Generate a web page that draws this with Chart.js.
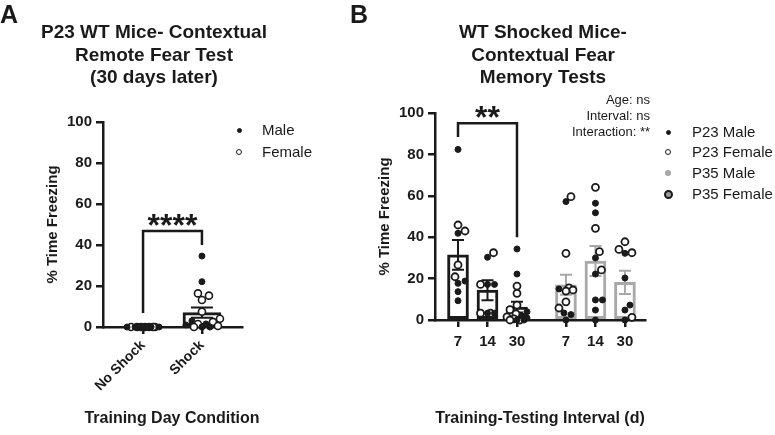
<!DOCTYPE html>
<html>
<head>
<meta charset="utf-8">
<script src="https://cdn.jsdelivr.net/npm/chart.js@4.4.0/dist/chart.umd.min.js"></script>
<style>
  body { margin: 0; background: #fff; font-family: "Liberation Sans", Arial, sans-serif; color: #1a1a1a; }
  #wrap { position: relative; width: 775px; height: 435px; overflow: hidden; }
  canvas { position: absolute; top: 0; }
  .t { position: absolute; white-space: nowrap; }
  .letter { font-size: 25px; font-weight: bold; line-height: 25px; top: 2px; }
  .title { font-size: 19px; font-weight: bold; line-height: 22.5px; text-align: center; width: 300px; top: 21px; }
  .xtitle { font-size: 16px; font-weight: bold; line-height: 18px; text-align: center; width: 300px; top: 409px; }
  .stats { font-size: 13px; line-height: 16px; text-align: right; right: 125px; top: 92px; }
  .leg { position: absolute; font-size: 15px; line-height: 18px; }
  .dot { position: absolute; border-radius: 50%; box-sizing: border-box; }
</style>
</head>
<body>
<div id="wrap">
  <canvas id="chartA" width="360" height="435" style="left:0"></canvas>
  <canvas id="chartB" width="415" height="435" style="left:360px"></canvas>
  <div class="t letter" style="left:0">A</div>
  <div class="t letter" style="left:350px">B</div>
  <div class="t title" style="left:4px">P23 WT Mice- Contextual<br>Remote Fear Test<br>(30 days later)</div>
  <div class="t title" style="left:393px">WT Shocked Mice-<br>Contextual Fear<br>Memory Tests</div>
  <div class="t xtitle" style="left:22px">Training Day Condition</div>
  <div class="t xtitle" style="left:390px">Training-Testing Interval (d)</div>
  <div class="t stats">Age: ns<br>Interval: ns<br>Interaction: **</div>
  <div id="legends"></div>
</div>
<script>
// ---- Panel A: P23 remote fear test ----
const groupsA = ['No Shock', 'Shock'];
const meanA = [0, 7.0];
const semA = [0, 2.5];
const maleA = [[0, 0, 0, 0, 0, 0, 0], [34.6, 22.1, 3, 1.5, 1, 0, 0]];
const femaleA = [[0, 0, 0, 0, 0, 0, 0], [16.4, 15.3, 13.2, 7.5, 4, 2.5, 1.5, 0.5, 0]];

// ---- Panel B: shocked mice, interval by age ----
const intervalsB = ['7', '14', '30'];
const agesB = ['P23', 'P35'];
const meanP23 = [31.5, 14.4, 6.2];
const semP23 = [7.2, 4.8, 2.6];
const meanP35 = [17.0, 28.5, 18.2];
const semP35 = [4.8, 7.2, 5.6];
const p23Male = [[82.4, 41.9, 18.8, 17.7, 13.7, 9.3], [30.3, 17.2, 17.2, 3.3, 3.3], [34.3, 22.2, 4, 2, 1, 0, 0]];
const p23Female = [[45.9, 43, 26.6, 20.9], [32.5, 17.2, 3.3, 3.3], [16.4, 12.9, 7.2, 5, 3, 1.5, 0.5, 0, 0]];
const p35Male = [[57.2, 15, 3.4, 2.6, 0], [56.4, 51.8, 30, 22.2, 9.7, 9.7, 4.8, 0], [32.2, 20.3, 7.2, 4.8, 0]];
const p35Female = [[59.6, 32.2, 15.5, 14.5, 14, 8.8, 5.8], [64.1, 44.3, 33, 24.2], [37.8, 34.1, 32.5, 1.3]];

const INK = '#1a1a1a';
const GREY = '#a8a8a8';
Chart.defaults.font.family = '"Liberation Sans", Arial, sans-serif';
Chart.defaults.color = INK;
Chart.defaults.animation = false;

// mean +/- SEM whiskers, drawn right after each bar dataset
const errorBars = {
  id: 'errorBars',
  afterDatasetDraw(chart, args) {
    const ds = chart.data.datasets[args.index];
    if (!ds.sem) return;
    const { ctx, scales: { x, y } } = chart;
    ctx.save();
    ctx.strokeStyle = ds.borderColor;
    ctx.lineWidth = 2;
    ds.data.forEach((p, i) => {
      const s = ds.sem[i];
      if (!s) return;
      const px = x.getPixelForValue(p.x);
      const top = y.getPixelForValue(p.y + s);
      const bot = y.getPixelForValue(Math.max(p.y - s, 0));
      ctx.beginPath();
      ctx.moveTo(px, top); ctx.lineTo(px, bot);
      ctx.moveTo(px - ds.cap, top); ctx.lineTo(px + ds.cap, top);
      ctx.moveTo(px - ds.cap, bot); ctx.lineTo(px + ds.cap, bot);
      ctx.stroke();
    });
    ctx.restore();
  }
};

// significance bracket with stars
const sigBracket = {
  id: 'sigBracket',
  afterDatasetsDraw(chart, args, o) {
    if (!o || o.label == null) return;
    const { ctx, scales: { x, y } } = chart;
    const x1 = x.getPixelForValue(o.from), x2 = x.getPixelForValue(o.to);
    const yt = y.getPixelForValue(o.top);
    ctx.save();
    ctx.strokeStyle = INK;
    ctx.lineWidth = 2.5;
    ctx.beginPath();
    ctx.moveTo(x1, y.getPixelForValue(o.leftEnd));
    ctx.lineTo(x1, yt);
    ctx.lineTo(x2, yt);
    ctx.lineTo(x2, y.getPixelForValue(o.rightEnd));
    ctx.stroke();
    ctx.fillStyle = INK;
    ctx.font = 'bold 32px "Liberation Sans", Arial, sans-serif';
    ctx.textAlign = 'center';
    ctx.textBaseline = 'alphabetic';
    ctx.fillText(o.label, (x1 + x2) / 2, yt + 5);
    ctx.restore();
  }
};

// simple beeswarm: spread points of one column sideways so they do not overlap
function swarm(values, center, xs, ys, diam, maxHalf) {
  const cx = xs.getPixelForValue(center);
  const placed = [];
  const out = new Array(values.length);
  const order = values.map((_, i) => i).sort((a, b) => values[a] - values[b]);
  order.forEach(i => {
    const py = ys.getPixelForValue(values[i]);
    let best = 0, bestD = -1;
    for (let k = 0; k <= 2 * maxHalf; k++) {
      const off = (k % 2 ? 1 : -1) * Math.ceil(k / 2);
      let minD = Infinity;
      placed.forEach(q => { minD = Math.min(minD, Math.hypot(off - q.off, py - q.py)); });
      if (minD >= diam) { best = off; break; }
      if (minD > bestD) { bestD = minD; best = off; }
    }
    placed.push({ off: best, py });
    out[i] = xs.getValueForPixel(cx + best);
  });
  return out;
}

function yAxis(width, titlePad) {
  return {
    min: 0, max: 100,
    ticks: { stepSize: 20, font: { size: 15, weight: 'bold' }, color: INK, padding: 4 },
    grid: { drawOnChartArea: false, tickLength: 7, color: INK, lineWidth: 2.5 },
    border: { color: INK, width: 2.5 },
    title: { display: true, text: '% Time Freezing', font: { size: 15, weight: 'bold' }, color: INK, padding: { top: titlePad, bottom: 0 } },
    afterFit(s) { s.width = width; }
  };
}

function xAxis(min, max, positions, labels, height, rot) {
  return {
    type: 'linear', min, max, offset: false,
    afterBuildTicks(s) { s.ticks = positions.map(v => ({ value: v })); },
    ticks: {
      autoSkip: false, minRotation: rot, maxRotation: rot, padding: rot ? 3 : 6,
      font: { size: rot ? 14 : 15, weight: 'bold' }, color: INK,
      callback: (v, i) => labels[i]
    },
    grid: { drawOnChartArea: false, offset: false, tickLength: 7, color: INK, lineWidth: 2.5 },
    border: { color: INK, width: 2.5 },
    afterFit(s) { s.height = height; }
  };
}

const scatterStyle = (fill, line, r, bw) => ({
  type: 'scatter', data: [], pointRadius: r, pointHoverRadius: r, backgroundColor: fill,
  borderColor: line, borderWidth: bw, clip: false, order: 1
});

const barStyle = (line, width) => ({
  type: 'bar', grouped: false, backgroundColor: '#fff', borderColor: line, borderWidth: 3,
  borderSkipped: false, barThickness: width, order: 2
});

// ---- chart A ----
const posA = groupsA.map((g, i) => i);
const chartA = new Chart(document.getElementById('chartA'), {
  type: 'bar',
  data: {
    datasets: [
      Object.assign(barStyle(INK, 38), { data: posA.map(i => ({ x: i, y: meanA[i] })), sem: semA, cap: 11 }),
      Object.assign(scatterStyle(INK, INK, 3, 1), { label: 'Male', legR: 2.5 }),
      Object.assign(scatterStyle('#fff', INK, 3.5, 1.6), { label: 'Female', legR: 3 })
    ]
  },
  options: {
    responsive: false,
    layout: { padding: { left: 0, top: 122, right: 118, bottom: 0 } },
    plugins: {
      legend: { display: false }, tooltip: { enabled: false },
      sigBracket: { from: 0, to: 1, top: 46.8, leftEnd: 6.8, rightEnd: 40, label: '****' }
    },
    scales: {
      x: xAxis(-0.68, 1.68, posA, groupsA, 108, 45),
      y: yAxis(103, 44)
    }
  },
  plugins: [errorBars, sigBracket]
});

// ---- chart B ----
const GAP = 3.66;
const posB = agesB.flatMap((a, ai) => intervalsB.map((t, i) => i + ai * GAP));
const labB = agesB.flatMap(() => intervalsB);
const chartB = new Chart(document.getElementById('chartB'), {
  type: 'bar',
  data: {
    datasets: [
      Object.assign(barStyle(INK, 21), { data: intervalsB.map((t, i) => ({ x: i, y: meanP23[i] })), sem: semP23, cap: 6 }),
      Object.assign(barStyle(GREY, 21), { data: intervalsB.map((t, i) => ({ x: i + GAP, y: meanP35[i] })), sem: semP35, cap: 6 }),
      Object.assign(scatterStyle(INK, INK, 3, 1), { label: 'P23 Male', legR: 2.5 }),
      Object.assign(scatterStyle('#fff', INK, 3.5, 1.8), { label: 'P23 Female', legR: 3 }),
      Object.assign(scatterStyle(GREY, GREY, 3.2, 0), { label: 'P35 Male', legR: 2.7 }),
      Object.assign(scatterStyle('#9c9c9c', INK, 4, 2.5), { label: 'P35 Female', legR: 4.5 })
    ]
  },
  options: {
    responsive: false,
    layout: { padding: { left: 0, top: 113, right: 130, bottom: 0 } },
    plugins: {
      legend: { display: false }, tooltip: { enabled: false },
      sigBracket: { from: 0, to: 2, top: 95, leftEnd: 88.4, rightEnd: 40, label: '**' }
    },
    scales: {
      x: xAxis(-0.78, 6.34, posB, labB, 115, 0),
      y: yAxis(75, 16)
    }
  },
  plugins: [errorBars, sigBracket]
});

// place the individual animals with a swarm per column (both sexes together)
function placePoints(chart, columns, seriesIdx, diam, maxHalf) {
  const xs = chart.scales.x, ys = chart.scales.y;
  seriesIdx.forEach(d => { chart.data.datasets[d].data = []; });
  columns.forEach(col => {
    const vals = [], owner = [];
    col.series.forEach((arr, s) => arr.forEach(v => { vals.push(v); owner.push(seriesIdx[s]); }));
    const xv = swarm(vals, col.x, xs, ys, diam, maxHalf);
    vals.forEach((v, i) => chart.data.datasets[owner[i]].data.push({ x: xv[i], y: v }));
  });
  chart.update('none');
}

placePoints(chartA, posA.map(i => ({ x: i, series: [maleA[i], femaleA[i]] })), [1, 2], 7.5, 18);
placePoints(chartB, intervalsB.map((t, i) => ({ x: i, series: [p23Male[i], p23Female[i]] }))
  .concat(intervalsB.map((t, i) => ({ x: i + GAP, series: [p35Male[i], p35Female[i]] }))), [2, 3, 4, 5], 7, 10);

// HTML legends built from the dataset styles
function legend(chart, ids, x0, rows, textX) {
  const host = document.getElementById('legends');
  ids.forEach((d, k) => {
    const ds = chart.data.datasets[d];
    const r = ds.legR;
    const dot = document.createElement('div');
    dot.className = 'dot';
    dot.style.cssText = `left:${x0 - r}px;top:${rows[k] - r}px;width:${2 * r}px;height:${2 * r}px;` +
      `background:${ds.backgroundColor};border:${Math.min(ds.borderWidth, 2.5)}px solid ${ds.borderColor};`;
    host.appendChild(dot);
    const t = document.createElement('div');
    t.className = 'leg';
    t.textContent = ds.label;
    t.style.left = textX + 'px';
    t.style.top = (rows[k] - 9) + 'px';
    host.appendChild(t);
  });
}
legend(chartA, [1, 2], 239, [130, 152], 262);
legend(chartB, [2, 3, 4, 5], 668, [132, 152, 173, 194], 692);
</script>
</body>
</html>
